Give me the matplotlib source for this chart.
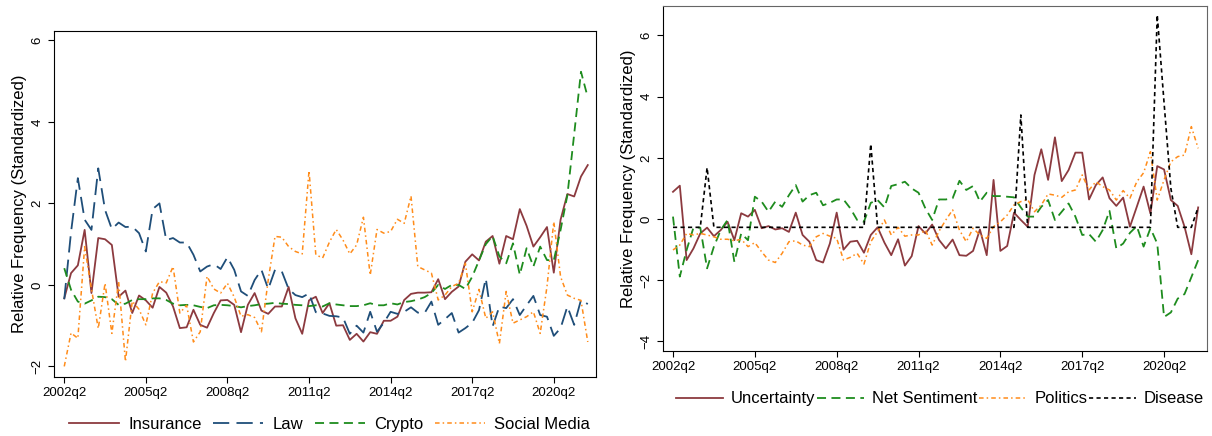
import matplotlib
matplotlib.use('Agg')
import matplotlib.pyplot as plt
import numpy as np

plt.rcParams['font.family'] = ['Liberation Sans', 'DejaVu Sans']

# kwartały od 2002q2 do 2021q3
n_q = 78
tick_pos = [0, 12, 24, 36, 48, 60, 72]
tick_lab = ['2002q2', '2005q2', '2008q2', '2011q2', '2014q2', '2017q2', '2020q2']

# lewy panel
insurance = [-0.33, 0.29, 0.48, 1.35, -0.2, 1.15, 1.12, 0.98, -0.29, -0.14,
             -0.69, -0.26, -0.38, -0.56, -0.05, -0.19, -0.53, -1.06, -1.04, -0.61,
             -0.98, -1.05, -0.69, -0.38, -0.37, -0.49, -1.16, -0.49, -0.2, -0.63,
             -0.71, -0.53, -0.53, -0.05, -0.82, -1.2, -0.38, -0.29, -0.69, -0.45,
             -1.0, -0.99, -1.35, -1.2, -1.39, -1.16, -1.2, -0.88, -0.88, -0.78,
             -0.37, -0.22, -0.19, -0.19, -0.18, 0.14, -0.35, -0.17, -0.04, 0.57,
             0.75, 0.6, 1.06, 1.2, 0.52, 1.2, 1.12, 1.86, 1.45, 0.94,
             1.17, 1.42, 0.3, 1.6, 2.23, 2.17, 2.66, 2.94]
law = [-0.35, 1.3, 2.62, 1.6, 1.35, 2.86, 1.84, 1.37, 1.53, 1.42,
       1.43, 1.27, 0.82, 1.86, 2.0, 1.1, 1.15, 1.04, 1.04, 0.74,
       0.33, 0.45, 0.51, 0.39, 0.68, 0.37, -0.16, -0.27, 0.12, 0.37,
       -0.1, 0.37, 0.33, -0.1, -0.25, -0.3, -0.21, -0.67, -0.7, -0.76,
       -0.77, -0.8, -1.2, -1.0, -1.17, -0.66, -1.15, -0.93, -0.66, -0.71,
       -0.66, -0.55, -0.68, -0.69, -0.41, -0.98, -0.84, -0.69, -1.17, -1.06,
       -0.93, -0.62, 0.16, -1.02, -0.53, -0.57, -0.35, -0.74, -0.5, -0.27,
       -0.74, -0.78, -1.25, -1.06, -0.53, -0.98, -0.37, -0.47]
crypto = [0.41, -0.12, -0.41, -0.46, -0.38, -0.29, -0.3, -0.35, -0.49, -0.46,
          -0.37, -0.35, -0.35, -0.33, -0.33, -0.37, -0.46, -0.5, -0.49, -0.5,
          -0.54, -0.57, -0.5, -0.49, -0.5, -0.52, -0.55, -0.52, -0.5, -0.47,
          -0.46, -0.44, -0.46, -0.47, -0.49, -0.5, -0.52, -0.5, -0.53, -0.45,
          -0.48, -0.5, -0.52, -0.52, -0.5, -0.45, -0.5, -0.5, -0.45, -0.48,
          -0.42, -0.4, -0.36, -0.3, -0.2, 0.0, -0.1, 0.0, 0.0, -0.1,
          0.2, 0.6, 1.0, 1.2, 0.7, 0.53, 1.02, 0.25, 0.9, 0.45,
          0.94, 0.61, 0.6, 1.35, 2.2, 3.7, 5.23, 4.6]
social = [-2.0, -1.18, -1.31, 0.94, -0.1, -1.07, 0.04, -1.19, 0.08, -1.88,
          -0.4, -0.6, -0.98, -0.2, 0.08, 0.05, 0.45, -0.69, -0.5, -1.4,
          -1.15, 0.21, -0.1, -0.2, 0.04, -0.3, -0.77, -0.73, -0.8, -1.15,
          0.12, 1.19, 1.17, 0.94, 0.82, 0.76, 2.8, 0.74, 0.66, 1.05,
          1.36, 1.1, 0.76, 0.98, 1.66, 0.24, 1.36, 1.27, 1.31, 1.61,
          1.51, 2.18, 0.45, 0.37, 0.29, -0.37, -0.25, -0.04, 0.04, 0.53,
          -0.66, -0.11, -0.82, -0.66, -1.44, -0.16, -0.94, -0.86, -0.78, -0.66,
          -1.19, -0.04, 1.55, 0.2, -0.25, -0.33, -0.38, -1.4]

# prawy panel
uncertainty = [0.89, 1.09, -1.34, -0.96, -0.47, -0.28, -0.56, -0.36, -0.09, -0.69,
               0.19, 0.08, 0.3, -0.3, -0.23, -0.34, -0.3, -0.42, 0.21, -0.52,
               -0.74, -1.34, -1.42, -0.8, 0.21, -1.0, -0.74, -0.71, -1.1, -0.52,
               -0.27, -0.77, -1.18, -0.66, -1.52, -1.21, -0.23, -0.47, -0.18, -0.68,
               -0.96, -0.67, -1.18, -1.2, -1.04, -0.34, -1.18, 1.28, -1.04, -0.88,
               0.21, -0.03, -0.25, 1.44, 2.28, 1.28, 2.67, 1.24, 1.6, 2.17,
               2.17, 0.64, 1.11, 1.36, 0.68, 0.43, 0.7, -0.25, 0.4, 1.06,
               0.18, 1.73, 1.62, 0.62, 0.43, -0.25, -1.15, 0.38]
sentiment = [0.08, -1.88, -1.01, -0.28, -0.28, -1.61, -0.9, -0.36, -0.03, -1.4,
             -0.47, -0.69, 0.73, 0.57, 0.24, 0.57, 0.4, 0.78, 1.11, 0.57,
             0.78, 0.86, 0.45, 0.53, 0.64, 0.64, 0.35, -0.03, -0.09, 0.53,
             0.62, 0.38, 1.08, 1.14, 1.22, 1.0, 0.86, 0.35, -0.03, 0.64,
             0.64, 0.68, 1.25, 0.95, 1.08, 0.57, 0.86, 0.75, 0.75, 0.73,
             0.71, 0.38, 0.08, 0.08, 0.4, 0.62, -0.03, 0.24, 0.51, 0.08,
             -0.52, -0.49, -0.74, -0.36, 0.27, -0.96, -0.8, -0.45, -0.23, -0.9,
             -0.3, -0.8, -3.2, -3.05, -2.6, -2.45, -1.9, -1.34]
politics = [-1.01, -0.85, -0.47, -0.52, -0.47, -0.52, -0.58, -0.66, -0.66, -0.71,
            -0.66, -0.9, -0.77, -1.07, -1.34, -1.42, -1.12, -0.74, -0.71, -0.85,
            -0.9, -0.58, -0.47, -0.56, -0.63, -1.34, -1.25, -1.12, -1.47, -0.74,
            -0.41, -0.03, -0.52, -0.27, -0.56, -0.52, -0.52, -0.36, -0.85, -0.4,
            -0.03, 0.3, -0.36, -0.74, -0.3, -0.52, -0.63, -0.25, -0.09, 0.13,
            0.46, 0.57, 0.64, 0.24, 0.46, 0.82, 0.78, 0.71, 0.89, 0.95,
            1.44, 0.95, 1.22, 1.06, 0.95, 0.62, 0.93, 0.68, 1.22, 1.51,
            2.2, 0.62, 1.28, 1.87, 2.04, 2.09, 3.02, 2.31]
disease_base = -0.27
disease_spikes = {5: 1.68, 29: 2.45, 51: 3.4, 71: 6.67, 72: 3.8, 73: 1.0, 77: 0.38}

disease = [disease_spikes.get(i, disease_base) for i in range(n_q)]
t = np.arange(n_q)

c_red = '#8c3a3f'
c_blue = '#1f4e79'
c_green = '#1e8c1e'
c_orange = '#ff8c1a'

fig = plt.figure(figsize=(12.12, 4.36), dpi=100)
ax1 = fig.add_axes([0.0446, 0.1353, 0.4471, 0.7936])
ax2 = fig.add_axes([0.547, 0.195, 0.4489, 0.7912])

ax1.plot(t, insurance, color=c_red, lw=1.3, label='Insurance')
ax1.plot(t, law, color=c_blue, lw=1.3, ls=(0, (9, 4)), label='Law')
ax1.plot(t, crypto, color=c_green, lw=1.3, ls=(0, (5, 3)), label='Crypto')
ax1.plot(t, social, color=c_orange, lw=1.1, ls=(0, (3, 2, 1, 2)), label='Social Media')
ax1.set_ylim(-2.26, 6.23)
ax1.set_xlim(-1.5, 78.2)

ax2.plot(t, uncertainty, color=c_red, lw=1.3, label='Uncertainty')
ax2.plot(t, sentiment, color=c_green, lw=1.3, ls=(0, (5, 3)), label='Net Sentiment')
ax2.plot(t, politics, color=c_orange, lw=1.1, ls=(0, (3, 2, 1, 2)), label='Politics')
ax2.plot(t, disease, color='black', lw=1.2, ls=(0, (2.5, 2)), label='Disease')
ax2.set_ylim(-4.31, 6.96)
ax2.set_xlim(-1.47, 78.3)
ax2.spines['top'].set_color('#666666')
ax2.spines['right'].set_color('#666666')

for ax in (ax1, ax2):
    ax.set_xticks(tick_pos)
    ax.set_xticklabels(tick_lab, fontsize=9.5)
    ax.set_yticks([-4, -2, 0, 2, 4, 6] if ax is ax2 else [-2, 0, 2, 4, 6])
    ax.tick_params(axis='y', labelrotation=90, labelsize=9.5, length=4)
    ax.tick_params(axis='x', length=4)
    for lab in ax.get_yticklabels():
        lab.set_va('center')
    ax.set_ylabel('Relative Frequency (Standardized)', fontsize=12, labelpad=3)

fig.legend(handles=ax1.get_lines(), loc='center', bbox_to_anchor=(0.272, 0.0275),
           ncol=4, frameon=False, fontsize=12, handlelength=3.0,
           handletextpad=0.55, columnspacing=0.7)
fig.legend(handles=ax2.get_lines(), loc='center', bbox_to_anchor=(0.7756, 0.085),
           ncol=4, frameon=False, fontsize=12, handlelength=2.8,
           handletextpad=0.5, columnspacing=0.1)

fig.savefig('out.png', dpi=100)
